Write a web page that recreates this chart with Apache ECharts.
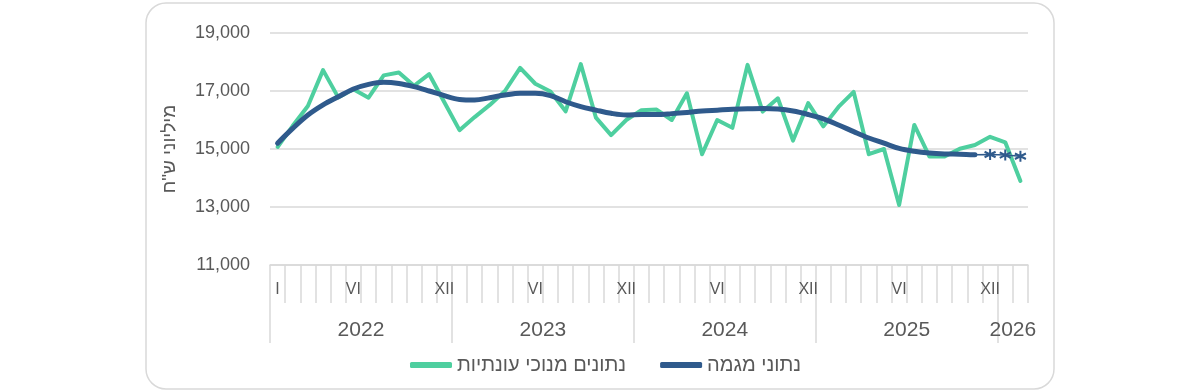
<!DOCTYPE html>
<html>
<head>
<meta charset="utf-8">
<script src="https://cdn.jsdelivr.net/npm/echarts@6/dist/echarts.min.js"></script>
<style>
  html, body { margin: 0; padding: 0; background: #ffffff; }
  #chart { width: 1200px; height: 392px; }
</style>
</head>
<body>
<div id="chart"></div>
<script>
// ---- data ----
const categories = [
  '2022-01','2022-02','2022-03','2022-04','2022-05','2022-06','2022-07','2022-08','2022-09','2022-10','2022-11','2022-12',
  '2023-01','2023-02','2023-03','2023-04','2023-05','2023-06','2023-07','2023-08','2023-09','2023-10','2023-11','2023-12',
  '2024-01','2024-02','2024-03','2024-04','2024-05','2024-06','2024-07','2024-08','2024-09','2024-10','2024-11','2024-12',
  '2025-01','2025-02','2025-03','2025-04','2025-05','2025-06','2025-07','2025-08','2025-09','2025-10','2025-11','2025-12',
  '2026-01','2026-02'
];
const monthLabels = [
  'I','','','','','VI','','','','','','XII',
  '','','','','','VI','','','','','','XII',
  '','','','','','VI','','','','','','XII',
  '','','','','','VI','','','','','','XII',
  '',''
];
const years = ['2022','2023','2024','2025','2026'];
const yearStartIndex = [0, 12, 24, 36, 48];
const yearLabelIndex = [6, 18, 30, 42, 49];

const seasonallyAdjusted = [
  15070, 15800, 16480, 17720, 16780, 17060, 16770, 17540, 17640, 17180, 17580, 16610,
  15650, 16100, 16520, 17000, 17800, 17250, 16980, 16300, 17930, 16080, 15480, 16000,
  16340, 16360, 16000, 16920, 14820, 16000, 15730, 17900, 16290, 16750, 15290, 16580,
  15780, 16450, 16970, 14820, 15000, 13070, 15830, 14740, 14740, 15010, 15140, 15420,
  15230, 13900
];
const trend = [
  15200, 15710, 16170, 16520, 16800, 17070, 17230, 17300, 17260, 17150, 17000, 16840,
  16710, 16690, 16770, 16860, 16920, 16920, 16840, 16630, 16460, 16340, 16230, 16170,
  16190, 16190, 16220, 16260, 16310, 16340, 16370, 16390, 16400, 16380, 16310, 16190,
  16040, 15830, 15600, 15380, 15200, 15020, 14920, 14860, 14830, 14820, 14800
];
const trendEstimate = [14810, 14790, 14750]; // last three months, marked with asterisks

const seriesNames = ['נתונים מנוכי עונתיות', 'נתוני מגמה'];
const yAxisTitle = 'מיליוני ש"ח';

// ---- build ----
const green = '#4ECF9F';
const blue = '#2F5A8C';
const gridGray = '#D9D9D9';
const textGray = '#595959';
const font = '"Liberation Sans", "DejaVu Sans", Arial, sans-serif';

const trendData = categories.map((c, i) => i < trend.length ? trend[i] : null);
const lastTrend = trend.length - 1;
const estimateData = categories.map((c, i) => {
  if (i === lastTrend) return { value: trend[i], symbol: 'none' };
  if (i > lastTrend) return trendEstimate[i - lastTrend - 1];
  return null;
});

const chart = echarts.init(document.getElementById('chart'), null, { renderer: 'canvas' });
chart.setOption({
  animation: false,
  textStyle: { fontFamily: font },
  graphic: [{
    type: 'rect',
    shape: { x: 146, y: 3, width: 908, height: 386, r: 20 },
    style: { fill: 'none', stroke: gridGray, lineWidth: 1.5 },
    z: -10
  }],
  grid: { left: 270, right: 172, top: 33, bottom: 127, containLabel: false },
  legend: {
    data: seriesNames,
    left: 410,
    top: 355,
    padding: 0,
    itemGap: 34,
    itemWidth: 42,
    itemHeight: 6,
    icon: 'roundRect',
    textStyle: { fontSize: 20, color: textGray, fontFamily: font }
  },
  xAxis: [{
    type: 'category',
    data: categories,
    boundaryGap: true,
    position: 'bottom',
    axisLine: { show: true, lineStyle: { color: gridGray, width: 1.5 } },
    axisTick: { show: true, interval: 0, length: 38, lineStyle: { color: gridGray, width: 1.5 } },
    axisLabel: {
      interval: 0,
      margin: 17,
      fontSize: 16,
      color: textGray,
      formatter: (v, i) => monthLabels[i]
    },
    splitLine: { show: false }
  }, {
    type: 'value',
    min: 0,
    max: categories.length,
    position: 'bottom',
    axisLine: { show: false },
    axisTick: {
      show: true,
      customValues: yearStartIndex,
      length: 78,
      lineStyle: { color: gridGray, width: 1.5 }
    },
    axisLabel: {
      customValues: yearLabelIndex,
      margin: 55,
      fontSize: 21,
      color: textGray,
      formatter: v => years[yearLabelIndex.indexOf(v)]
    },
    splitLine: { show: false }
  }],
  yAxis: {
    type: 'value',
    min: 11000,
    max: 19000,
    interval: 2000,
    name: yAxisTitle,
    nameLocation: 'middle',
    nameGap: 91,
    nameRotate: 90,
    nameTextStyle: { fontSize: 19, color: textGray, fontFamily: font },
    axisLine: { show: false },
    axisTick: { show: false },
    axisLabel: { fontSize: 18, color: textGray, margin: 20 },
    splitLine: { lineStyle: { color: gridGray, width: 1.5 } }
  },
  series: [{
    name: seriesNames[0],
    type: 'line',
    data: seasonallyAdjusted,
    symbol: 'none',
    itemStyle: { color: green },
    lineStyle: { color: green, width: 4, cap: 'round', join: 'round' },
    z: 2
  }, {
    name: seriesNames[1],
    type: 'line',
    data: trendData,
    smooth: 0.35,
    symbol: 'none',
    itemStyle: { color: blue },
    lineStyle: { color: blue, width: 5, cap: 'round', join: 'round' },
    z: 3
  }, {
    name: 'estimate',
    type: 'line',
    data: estimateData,
    symbol: 'path://M5,0L5,10M0.7,2.5L9.3,7.5M0.7,7.5L9.3,2.5',
    symbolSize: 11,
    showSymbol: true,
    itemStyle: { color: blue, borderColor: blue, borderWidth: 2 },
    lineStyle: { color: blue, width: 1.5 },
    z: 3
  }]
});
</script>
</body>
</html>
